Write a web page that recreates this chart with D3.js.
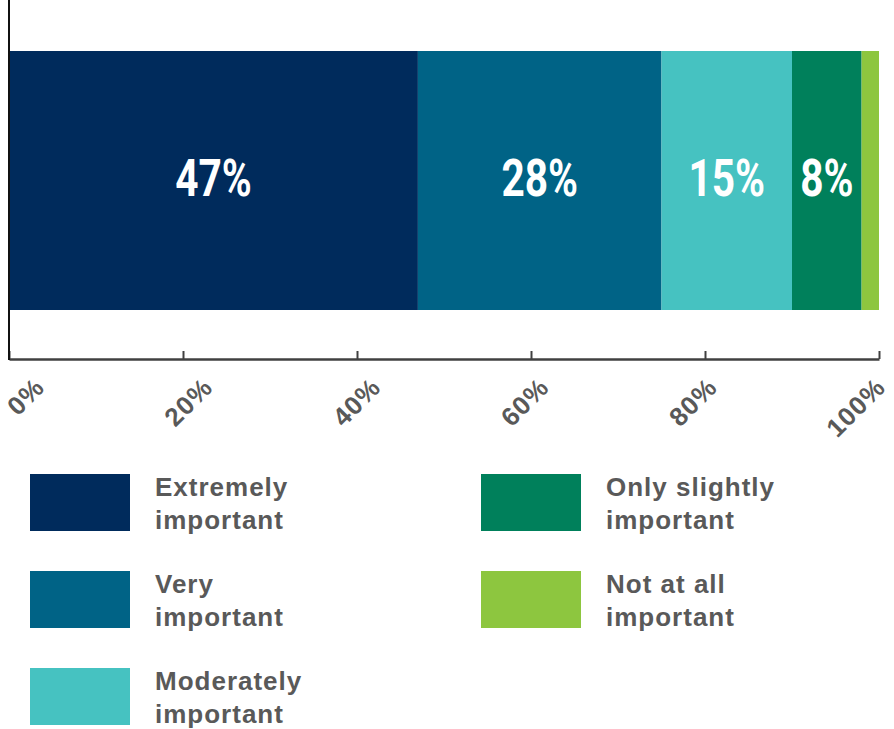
<!DOCTYPE html>
<html>
<head>
<meta charset="utf-8">
<script src="https://cdn.jsdelivr.net/npm/d3@7"></script>
<style>
  html, body { margin: 0; padding: 0; background: #fff; }
  svg { display: block; }
</style>
</head>
<body>
<svg id="chart" width="894" height="729"></svg>
<script>
// Share of respondents by rated importance (single stacked bar, percent)
const categories = [
  "Extremely important",
  "Very important",
  "Moderately important",
  "Only slightly important",
  "Not at all important"
];
const values = [47, 28, 15, 8, 2];
const colors = ["#002b5c", "#006386", "#46c2c1", "#00805b", "#8dc63f"];
const tickValues = [0, 20, 40, 60, 80, 100];
const tickLabels = ["0%", "20%", "40%", "60%", "80%", "100%"];

const svg = d3.select("#chart");

const x = d3.scaleLinear().domain([0, 100]).range([9, 879]);
const y = d3.scaleBand().domain(["All"]).range([51, 310]).padding(0);
const axisY = 359;

// stacked segments
let acc = 0;
const segs = values.map((v, i) => {
  const s = { key: categories[i], start: acc, end: acc + v, value: v, color: colors[i] };
  acc += v;
  return s;
});

svg.append("g").selectAll("rect")
  .data(segs)
  .join("rect")
  .attr("x", d => x(d.start))
  .attr("y", y("All"))
  .attr("width", d => x(d.end) - x(d.start))
  .attr("height", y.bandwidth())
  .attr("fill", d => d.color);

// value labels inside the segments (condensed look via horizontal scale)
svg.append("g").selectAll("text")
  .data(segs.filter(d => d.value >= 5))
  .join("text")
  .attr("transform", d => `translate(${(x(d.start) + x(d.end)) / 2},${y("All") + y.bandwidth() / 2 + 15}) scale(0.78,1)`)
  .attr("text-anchor", "middle")
  .attr("font-family", "Roboto, 'Liberation Sans', sans-serif")
  .attr("font-weight", 700)
  .attr("font-size", 52)
  .attr("fill", "#ffffff")
  .text(d => d.value + "%");

// x axis with inward ticks
const xAxis = d3.axisBottom(x)
  .tickValues(tickValues)
  .tickSize(-8)
  .tickSizeOuter(0)
  .tickFormat("");
const gx = svg.append("g")
  .attr("transform", `translate(0,${axisY})`)
  .call(xAxis);
gx.select(".domain").attr("stroke", "#404040").attr("stroke-width", 2.4);
gx.selectAll(".tick line").attr("stroke", "#404040").attr("stroke-width", 2);

// rotated tick labels
const labelX = d3.scaleLinear().domain([0, 100]).range([46, 887]);
svg.append("g").selectAll("text")
  .data(tickValues)
  .join("text")
  .attr("transform", d => `translate(${labelX(d)},389) rotate(-45)`)
  .attr("text-anchor", "end")
  .attr("font-family", "'Liberation Sans', Arial, sans-serif")
  .attr("font-weight", 700)
  .attr("font-size", 26)
  .attr("letter-spacing", 1)
  .attr("fill", "#595959")
  .text((d, i) => tickLabels[i]);

// vertical axis line
svg.append("line")
  .attr("x1", 9).attr("x2", 9)
  .attr("y1", 0).attr("y2", axisY + 1)
  .attr("stroke", "#111")
  .attr("stroke-width", 2);

// legend: two columns
const legendCols = [30, 481];
const legendTop = 474;
const legendStep = 97;
const perCol = 3;
const legend = svg.append("g").selectAll("g")
  .data(categories)
  .join("g")
  .attr("transform", (d, i) => {
    const col = Math.floor(i / perCol);
    const row = i % perCol;
    return `translate(${legendCols[col]},${legendTop + row * legendStep})`;
  });

legend.append("rect")
  .attr("width", 100)
  .attr("height", 57)
  .attr("fill", (d, i) => colors[i]);

legend.append("text")
  .attr("x", 125)
  .attr("font-family", "'Liberation Sans', Arial, sans-serif")
  .attr("font-weight", 700)
  .attr("font-size", 26)
  .attr("letter-spacing", 1)
  .attr("fill", "#595959")
  .each(function(d) {
    const words = d.split(" ");
    const last = words.pop();
    const t = d3.select(this);
    t.append("tspan").attr("x", 125).attr("y", 22).text(words.join(" "));
    t.append("tspan").attr("x", 125).attr("y", 55).text(last);
  });
</script>
</body>
</html>
